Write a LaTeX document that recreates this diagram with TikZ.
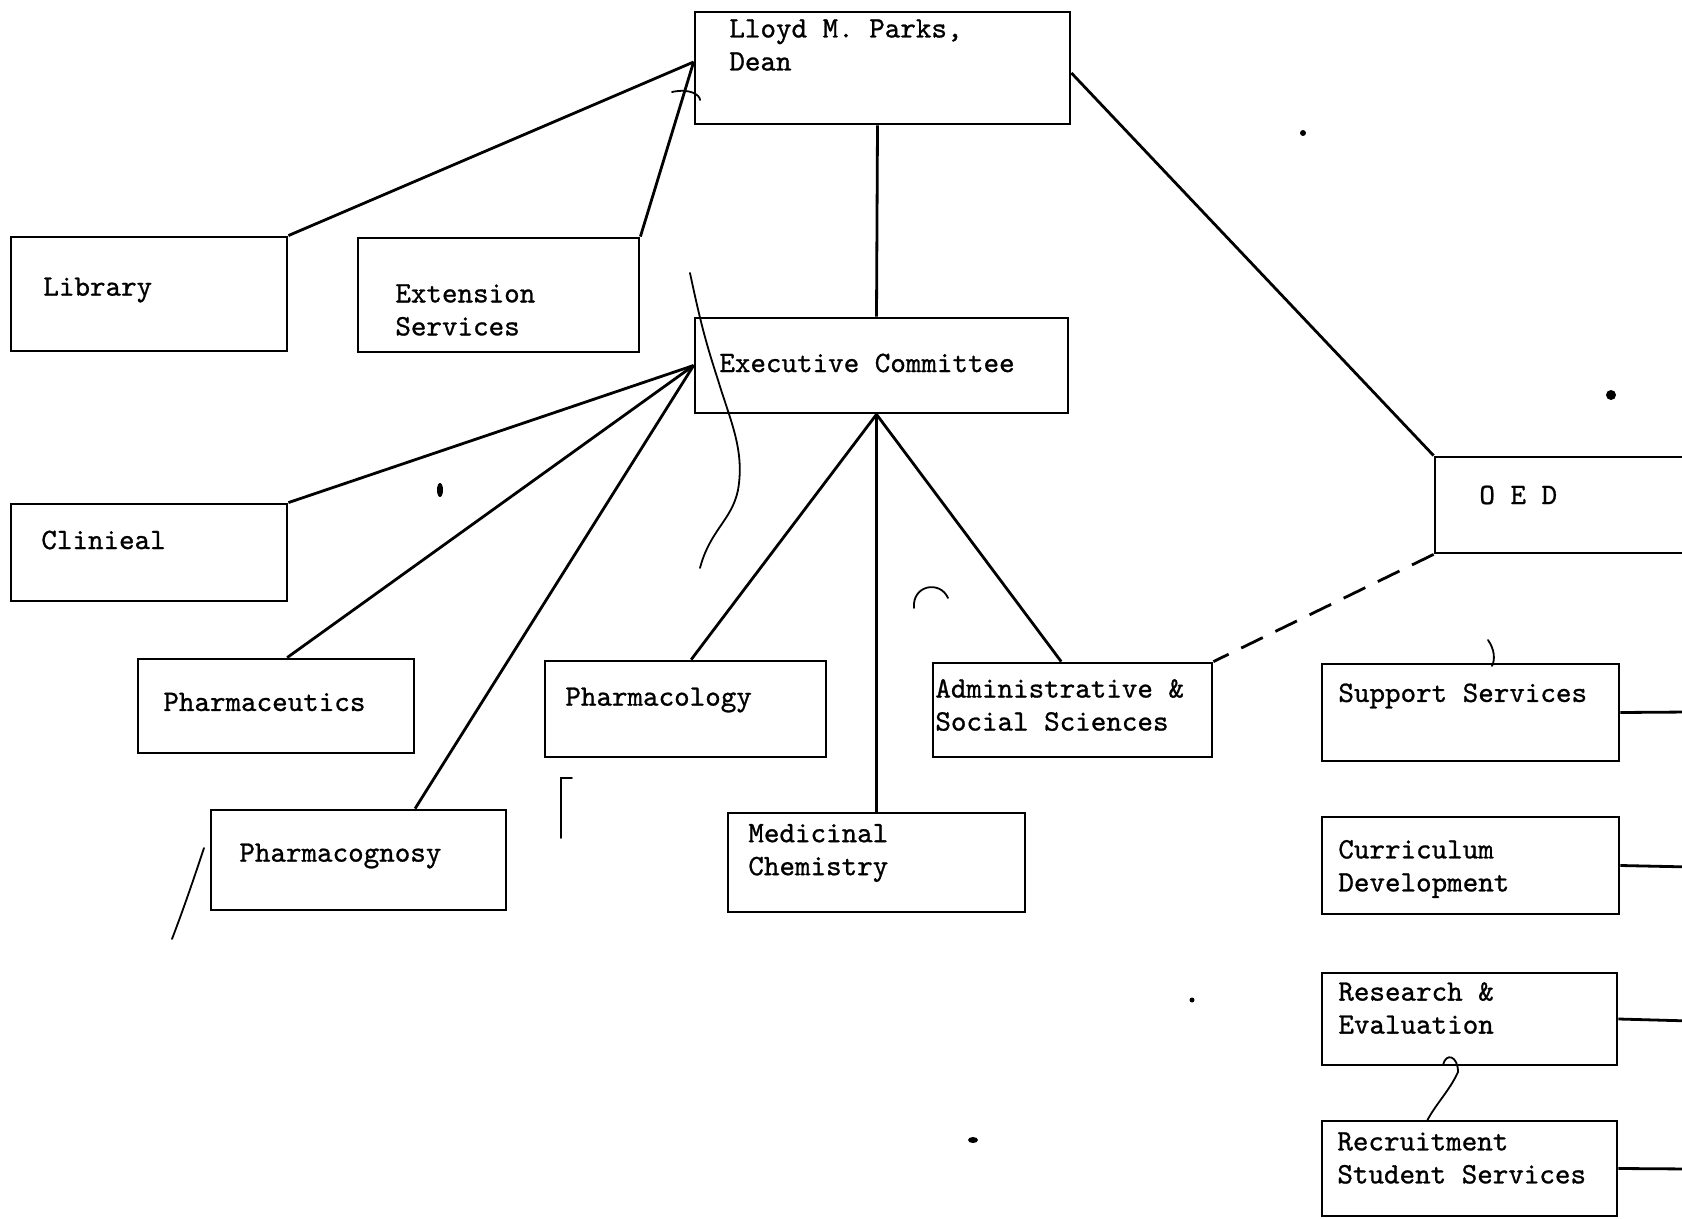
\documentclass[tikz,border=0pt]{standalone}
\usepackage{fontspec}
\setmonofont[FakeBold=0.9,Extension=.otf]{lmmono10-regular}
\usetikzlibrary{fit,calc}
\tikzset{
  box/.style={draw, line width=1.4pt, inner sep=0pt, rectangle},
  conn/.style={line width=1.4pt},
  dconn/.style={line width=1.4pt, dash pattern=on 12pt off 7pt},
  lbl/.style={font=\ttfamily\fontsize{14.8}{16.5}\selectfont, align=left, anchor=west, inner sep=0pt},
  scrib/.style={line width=0.9pt, line cap=round},
}
\begin{document}
\begin{tikzpicture}[x=0.5pt,y=-0.5pt]
\useasboundingbox (0,0) rectangle (1682,1219);
\clip (0,0) rectangle (1682,1219);
\fill[white] (0,0) rectangle (1682,1219);

% boxes
\node[box, fit={(695,12) (1070,124)}] (dean) {};
\node[box, fit={(11,237) (287,351)}] (lib) {};
\node[box, fit={(358,238) (639,352)}] (ext) {};
\node[box, fit={(695,318) (1068,413)}] (exec) {};
\node[box, fit={(11,504) (287,601)}] (clin) {};
\node[box, fit={(138,659) (414,753)}] (pceu) {};
\node[box, fit={(211,810) (506,910)}] (pcog) {};
\node[box, fit={(545,661) (826,757)}] (pcol) {};
\node[box, fit={(728,813) (1025,912)}] (med) {};
\node[box, fit={(933,663) (1212,757)}] (adm) {};
\node[box, fit={(1435,457) (1730,553)}] (oed) {};
\node[box, fit={(1322,664) (1619,761)}] (sup) {};
\node[box, fit={(1322,817) (1619,914)}] (cur) {};
\node[box, fit={(1322,973) (1617,1065)}] (res) {};
\node[box, fit={(1322,1121) (1617,1216)}] (rec) {};

% labels
\node[lbl] (tdean) at (729,45) {Lloyd M. Parks,\\Dean};
\node[lbl] (tlib) at (43,290) {Library};
\node[lbl] (text) at (395,310) {Extension\\Services};
\node[lbl] (texec) at (719,363) {Executive Committee};
\node[lbl] (tclin) at (41,540) {Clinieal};
\node[lbl] (tpceu) at (163,702) {Pharmaceutics};
\node[lbl] (tpcog) at (239,856) {Pharmacognosy};
\node[lbl] (tpcol) at (565,700) {Pharmacology};
\node[lbl] (tmed) at (748,853) {Medicinal\\Chemistry};
\node[lbl] (tadm) at (935,705) {Administrative \&\\Social Sciences};
\node[lbl] (toed) at (1479,495) {O E D};
\node[lbl] (tsup) at (1338,696) {Support Services};
\node[lbl] (tcur) at (1338,869) {Curriculum\\Development};
\node[lbl] (tres) at (1338,1008) {Research \&\\Evaluation};
\node[lbl] (trec) at (1337,1158) {Recruitment\\Student Services};

% free ends at right edge
\coordinate (esup) at (1690,712);
\coordinate (ecur) at (1690,867);
\coordinate (eres) at (1690,1021);
\coordinate (erec) at (1690,1169);

% connectors
\draw[conn] (lib.north east) -- ([yshift=3pt]dean.west);
\draw[conn] (ext.north east) -- ([yshift=3pt]dean.west);
\draw[conn] ([xshift=-2.5pt]dean.south) -- ([xshift=-2.5pt]exec.north);
\draw[conn] ([yshift=-2.5pt]dean.east) -- (oed.north west);
\draw[conn] (exec.west) -- (clin.north east);
\draw[conn] (exec.west) -- ($(pceu.north west)!0.54!(pceu.north east)$);
\draw[conn] (exec.west) -- ($(pcog.north west)!0.69!(pcog.north east)$);
\draw[conn] ([xshift=-2.5pt]exec.south) -- ($(pcol.north west)!0.52!(pcol.north east)$);
\draw[conn] ([xshift=-2.5pt]exec.south) -- ([xshift=-2.5pt]exec.south |- med.north);
\draw[conn] ([xshift=-2.5pt]exec.south) -- ($(adm.north west)!0.46!(adm.north east)$);
\draw[dconn] (oed.south west) -- (adm.north east);
\draw[conn] (sup.east) -- (esup);
\draw[conn] (cur.east) -- (ecur);
\draw[conn] (res.east) -- (eres);
\draw[conn] (rec.east) -- (erec);

% scan marks
\draw[scrib] (690,273) .. controls (700,320) and (705,340) .. (718,380)
  .. controls (730,420) and (745,450) .. (738,490)
  .. controls (732,520) and (710,530) .. (700,568);
\draw[scrib] (672,92) .. controls (690,88) and (700,95) .. (700,100);
\draw[scrib] (1443,1065) .. controls (1446,1052) and (1458,1056) .. (1458,1072)
  .. controls (1450,1090) and (1435,1105) .. (1427,1121);
\draw[scrib] (914,608) .. controls (912,585) and (940,580) .. (948,598);
\draw[scrib] (172,939) .. controls (185,905) and (195,875) .. (204,848);
\draw[scrib] (561,838) -- (561,778) -- (572,778);
\draw[scrib] (1488,640) .. controls (1495,650) and (1495,660) .. (1492,666);
\fill (1611,395) circle (5);
\fill (1303,133) circle (3);
\fill (1192,1000) circle (2.5);
\fill (973,1140) ellipse (5 and 3);
\fill (440,490) ellipse (3 and 7);
\end{tikzpicture}
\end{document}
